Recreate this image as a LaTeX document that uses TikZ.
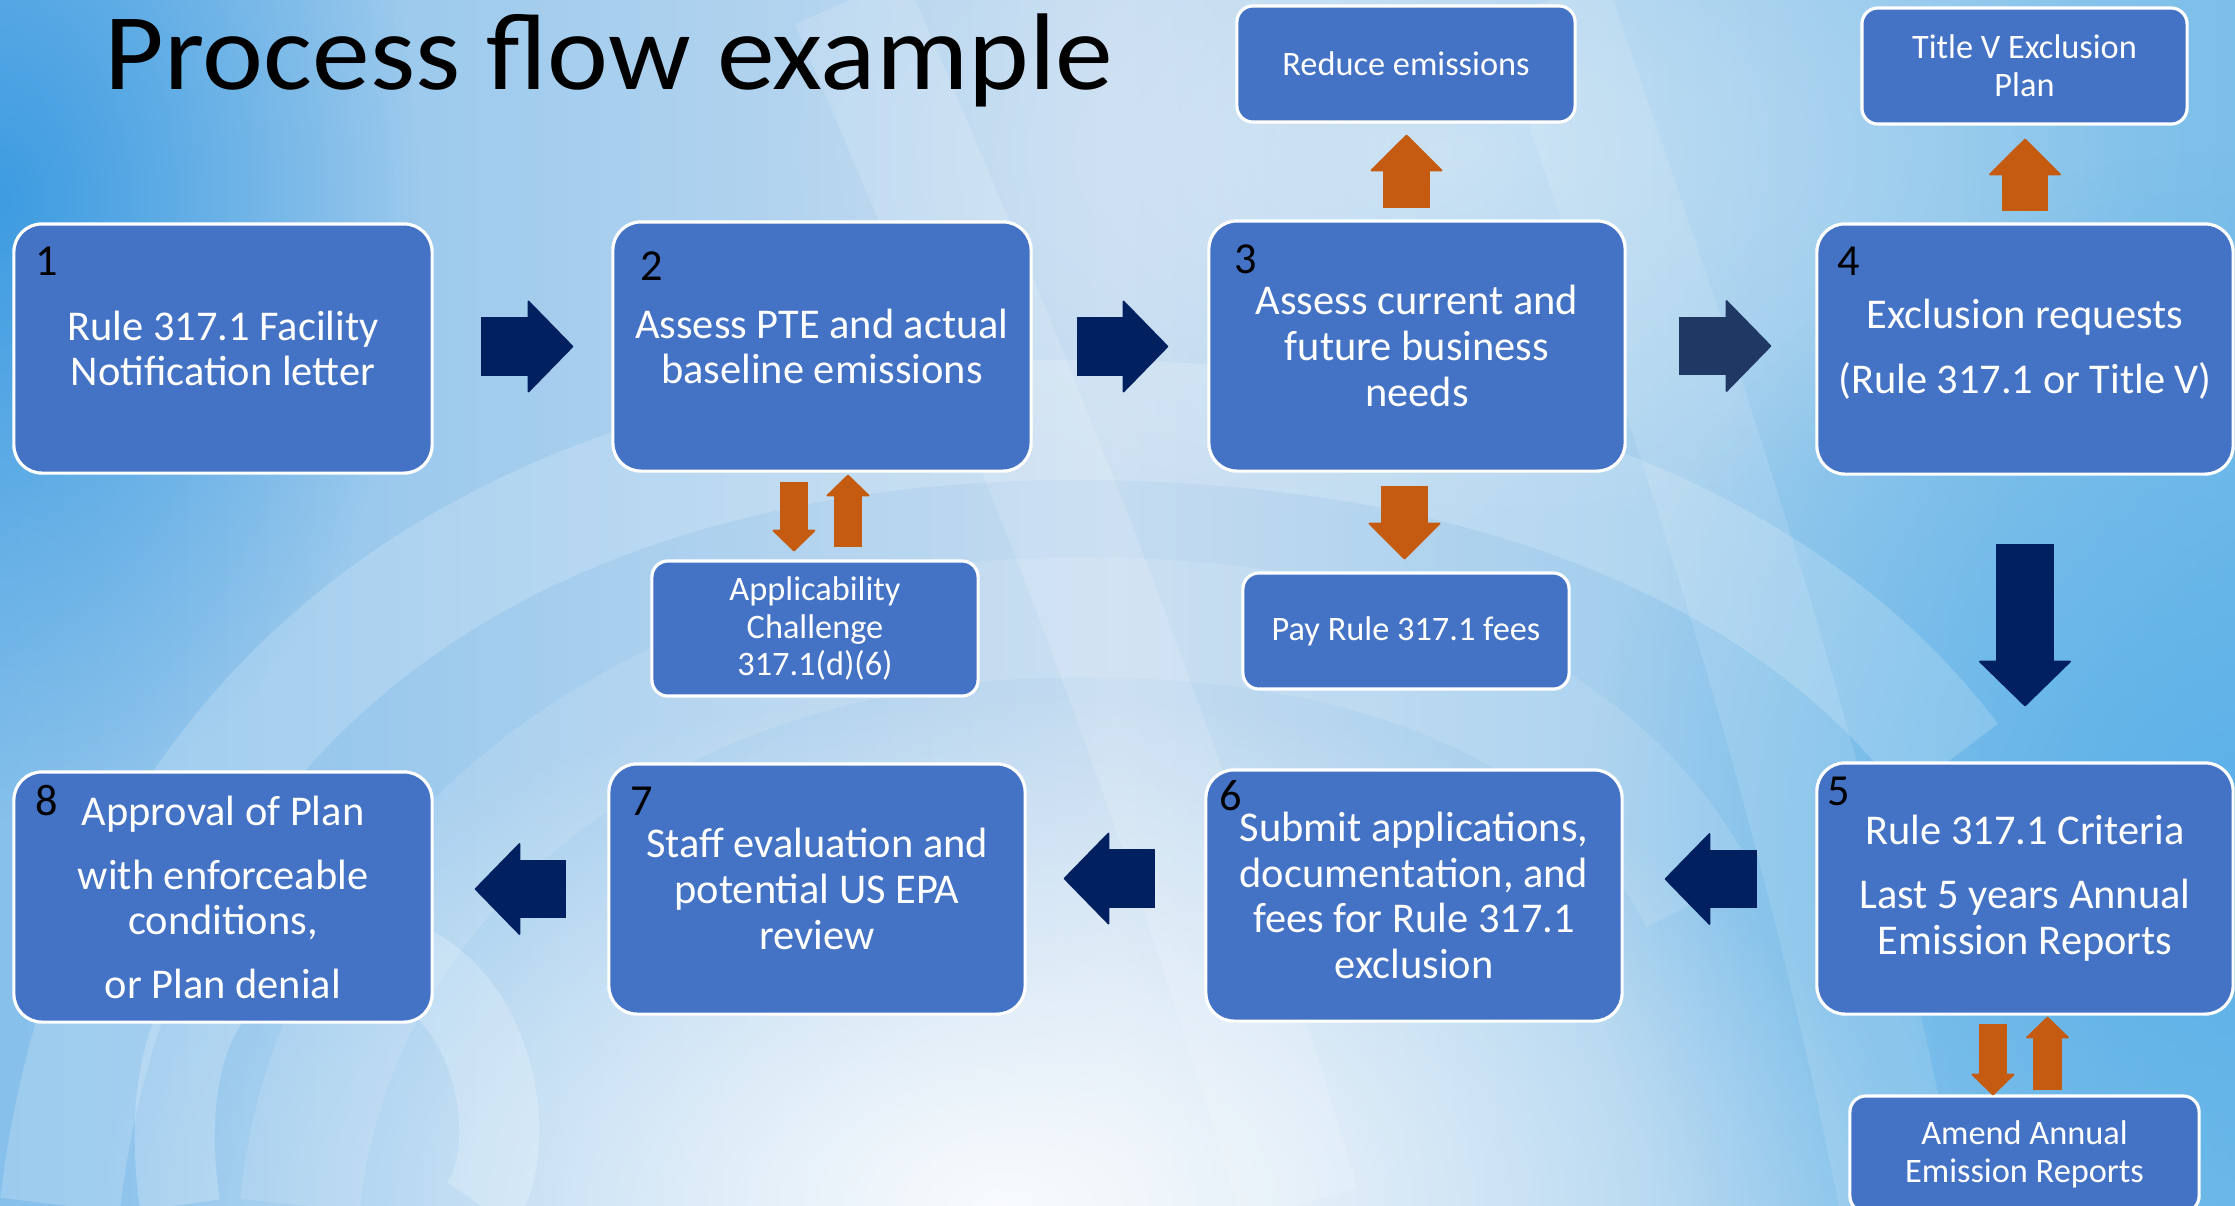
\documentclass[tikz,border=0pt]{standalone}
\usepackage{fontspec}
\setmainfont{Carlito}
\usetikzlibrary{arrows.meta,calc,fadings}
\definecolor{boxblue}{HTML}{4472C4}
\definecolor{navy}{HTML}{002060}
\definecolor{navyb}{HTML}{203864}
\definecolor{orng}{HTML}{C55A11}
\definecolor{bgleft}{HTML}{86C0EB}
\definecolor{bgmid}{HTML}{C4DBF0}
\definecolor{bgright}{HTML}{7CBFEA}
\definecolor{bgdeep}{HTML}{3E9CE1}
\definecolor{bgrightdeep}{HTML}{5AB0E8}
\tikzfading[name=fuzzyc, inner color=transparent!0, outer color=transparent!100]
\tikzset{
  flowbox/.style={rectangle, rounded corners=0.28cm, fill=boxblue, draw=white,
    line width=0.9pt, text=white, align=center, inner sep=0pt,
    font=\fontsize{12.06}{13}\selectfont},
  smallbox/.style={flowbox, rounded corners=0.16cm, font=\fontsize{9.76}{10.75}\selectfont},
  numlabel/.style={anchor=base west, inner sep=0pt, text=black,
    font=\fontsize{12.6}{14}\selectfont},
  bigarrow/.style={draw=navy, line width=0.58cm,
    -{Triangle[length=0.46cm, width=0.94cm, line width=0.5pt, round]}},
  midarrow/.style={draw=orng, line width=0.46cm,
    -{Triangle[length=0.37cm, width=0.74cm, line width=0.5pt, round]}},
  smallarrow/.style={draw=orng, line width=0.285cm,
    -{Triangle[length=0.22cm, width=0.45cm, line width=0.5pt, round]}},
  swirl/.style={white, opacity=0.18, line width=1.2cm}
}
\begin{document}
\begin{tikzpicture}[x=0.01cm, y=-0.01cm]
\useasboundingbox (0,0) rectangle (2235,1205);
% ---------- background ----------
\begin{scope}
\clip (0,0) rectangle (2235,1205);
\shade[left color=bgleft, right color=bgright, middle color=bgmid] (0,0) rectangle (2235,1205);
\fill[bgdeep, path fading=fuzzyc] (0,200) ellipse (420 and 620);
\fill[bgrightdeep, path fading=fuzzyc] (2235,850) ellipse (650 and 700);
\fill[white, opacity=0.9, path fading=fuzzyc] (1000,1205) ellipse (900 and 520);
\fill[white, opacity=0.35, path fading=fuzzyc] (1450,150) ellipse (700 and 380);
\draw[swirl] (60,1205) .. controls (120,700) and (500,430) .. (1050,420)
               .. controls (1500,415) and (1800,560) .. (1950,760);
\draw[swirl, opacity=0.12] (300,1205) .. controls (330,900) and (600,650) .. (1000,620)
               .. controls (1350,600) and (1600,700) .. (1700,900);
\draw[swirl, opacity=0.15] (850,0) .. controls (1000,350) and (1150,700) .. (1300,1205);
\draw[swirl, opacity=0.12] (1550,0) .. controls (1650,300) and (1800,700) .. (1900,1205);
\draw[swirl, opacity=0.22, line width=0.8cm] (180,1205) .. controls (150,1000) and (250,900) .. (400,960)
               .. controls (500,1000) and (520,1150) .. (480,1205);
\end{scope}
% ---------- title ----------
\node[anchor=base west, inner sep=0pt, text=black, font=\fontsize{31}{37}\selectfont]
  (title) at (104,89) {\scalebox{1.06}[1]{Process flow example}};
% ---------- main boxes ----------
\node[flowbox, minimum width=4.18cm, minimum height=2.49cm] (b1) at (223,348.5)
  {Rule 317.1 Facility\\Notification letter};
\node[flowbox, minimum width=4.18cm, minimum height=2.49cm] (b2) at (822,346.5)
  {Assess PTE and actual\\baseline emissions};
\node[flowbox, minimum width=4.16cm, minimum height=2.50cm] (b3) at (1417,346)
  {Assess current and\\future business\\needs};
\node[flowbox, minimum width=4.16cm, minimum height=2.50cm] (b4) at (2025,349)
  {Exclusion requests\\[5.5pt](Rule 317.1 or Title V)};
\node[flowbox, minimum width=4.16cm, minimum height=2.51cm] (b5) at (2025,888.5)
  {Rule 317.1 Criteria\\[5.2pt]Last 5 years Annual\\Emission Reports};
\node[flowbox, minimum width=4.16cm, minimum height=2.51cm] (b6) at (1414,895.5)
  {Submit applications,\\documentation, and\\fees for Rule 317.1\\exclusion};
\node[flowbox, minimum width=4.16cm, minimum height=2.50cm] (b7) at (817,889)
  {Staff evaluation and\\potential US EPA\\review};
\node[flowbox, minimum width=4.18cm, minimum height=2.50cm] (b8) at (223,897)
  {Approval of Plan\\[5.2pt]with enforceable\\conditions,\\[5pt]or Plan denial};
% ---------- side boxes ----------
\node[smallbox, minimum width=3.38cm, minimum height=1.16cm] (red) at (1406,64)
  {Reduce emissions};
\node[smallbox, minimum width=3.25cm, minimum height=1.16cm] (tv) at (2024.5,66)
  {Title V Exclusion\\Plan};
\node[smallbox, minimum width=3.26cm, minimum height=1.35cm] (app) at (815,628.5)
  {Applicability\\Challenge\\317.1(d)(6)};
\node[smallbox, minimum width=3.26cm, minimum height=1.16cm] (pay) at (1406,631)
  {Pay Rule 317.1 fees};
\node[smallbox, minimum width=3.49cm, minimum height=1.16cm] (am) at (2024.5,1154)
  {Amend Annual\\Emission Reports};
% ---------- step numbers ----------
\node[numlabel] (n1) at (35,275) {1};
\node[numlabel] (n2) at (640,280) {2};
\node[numlabel] (n3) at (1234,273) {3};
\node[numlabel] (n4) at (1837,275) {4};
\node[numlabel] (n5) at (1827,805) {5};
\node[numlabel] (n6) at (1219,810) {6};
\node[numlabel] (n7) at (630,815) {7};
\node[numlabel] (n8) at (35,815) {8};
% ---------- main flow arrows ----------
\draw[bigarrow] ($(b1.east)+(47,-2)$) -- ($(b1.east -| b2.west)+(-38,-2)$);
\draw[bigarrow] ($(b2.east)+(44,0)$) -- ($(b2.east -| b3.west)+(-39,0)$);
\draw[bigarrow, draw=navyb] ($(b3.east)+(52,0)$) -- ($(b3.east -| b4.west)+(-44,0)$);
\draw[bigarrow] ($(b4.south)+(0,68)$) -- ($(b4.south |- b5.north)+(0,-55)$);
\draw[bigarrow] ($(b5.west)+(-58,-9.5)$) -- ($(b5.west -| b6.east)+(41,-9.5)$);
\draw[bigarrow] ($(b6.west)+(-49,-17)$) -- ($(b6.west -| b7.east)+(37,-17)$);
\draw[bigarrow] ($(b7.west)+(-41,0)$) -- ($(b7.west -| b8.east)+(41,0)$);
% ---------- side arrows ----------
\draw[midarrow] ($(red.south |- b3.north)+(0.5,-11)$) -- ($(red.south)+(0.5,11)$);
\draw[midarrow] ($(tv.south |- b4.north)+(0.5,-11)$) -- ($(tv.south)+(0.5,13)$);
\draw[midarrow] ($(pay.north |- b3.south)+(-1.5,13)$) -- ($(pay.north)+(-1.5,-12)$);
\draw[smallarrow] ($(app.north |- b2.south)+(-21,9)$) -- ($(app.north)+(-21,-8)$);
\draw[smallarrow] ($(app.north)+(33,-12)$) -- ($(app.north |- b2.south)+(33,2)$);
\draw[smallarrow] ($(am.north |- b5.south)+(-31.5,8)$) -- ($(am.north)+(-31.5,1)$);
\draw[smallarrow] ($(am.north)+(23,-4)$) -- ($(am.north |- b5.south)+(23,1)$);
\end{tikzpicture}
\end{document}
